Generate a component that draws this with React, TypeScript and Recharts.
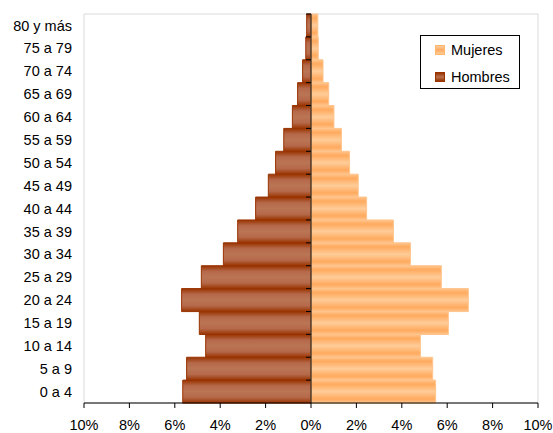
import React from "react";
import { BarChart, Bar, XAxis, YAxis, ReferenceLine, ReferenceArea, Legend } from "recharts";

const categories = ["0 a 4", "5 a 9", "10 a 14", "15 a 19", "20 a 24", "25 a 29", "30 a 34", "35 a 39", "40 a 44", "45 a 49", "50 a 54", "55 a 59", "60 a 64", "65 a 69", "70 a 74", "75 a 79", "80 y más"];
const hombres = [5.65, 5.48, 4.64, 4.92, 5.7, 4.83, 3.86, 3.23, 2.44, 1.88, 1.56, 1.2, 0.82, 0.59, 0.37, 0.23, 0.19];
const mujeres = [5.49, 5.36, 4.82, 6.05, 6.93, 5.74, 4.38, 3.63, 2.45, 2.08, 1.7, 1.34, 1.01, 0.78, 0.53, 0.32, 0.3];
const xTicks = [-10, -8, -6, -4, -2, 0, 2, 4, 6, 8, 10];

const data = categories.map((c, i) => ({ cat: c, Hombres: -hombres[i], Mujeres: mujeres[i] }));

const FONT = "Arial, 'Liberation Sans', sans-serif";
const W = 553;
const H = 433;
const M = { top: 14, right: 15, bottom: 0, left: 8 };
const Y_W = 76;
const plotLeft = M.left + Y_W;
const plotRight = W - M.right;
const zeroX = (plotLeft + plotRight) / 2;

const YTick = (props: any) => {
  const { x, y, payload } = props;
  const half = payload && typeof payload.offset === "number" && payload.offset > 0 ? payload.offset : 11.44;
  return (
    <g>
      <text x={x} y={y} dy="0.355em" textAnchor="end" fontSize={14.5} fontFamily={FONT} fill="#000">
        {payload.value}
      </text>
      <line x1={zeroX - 5} x2={zeroX} y1={y - half} y2={y - half} stroke="#000" strokeWidth={1} />
    </g>
  );
};

const LegendBox = () => {
  const items = [
    { name: "Mujeres", border: "#FFB870", bg: "linear-gradient(#FFCC99, #FFAA5E 50%, #FFCC99)" },
    { name: "Hombres", border: "#993300", bg: "linear-gradient(#993300, #B8704E 50%, #993300)" },
  ];
  return (
    <div
      style={{
        width: 98,
        height: 52,
        border: "1px solid #000",
        background: "#fff",
        boxSizing: "content-box",
        fontFamily: FONT,
        fontSize: 14.5,
        position: "relative",
      }}
    >
      {items.map((it, i) => (
        <div key={it.name} style={{ position: "absolute", left: 14, top: 5 + i * 27, height: 17, display: "flex", alignItems: "center" }}>
          <span style={{ display: "inline-block", width: 8, height: 8, border: `1px solid ${it.border}`, background: it.bg, marginRight: 6 }} />
          <span style={{ color: "#000" }}>{it.name}</span>
        </div>
      ))}
    </div>
  );
};

export default function App() {
  return (
    <div style={{ position: "absolute", left: 0, top: 0, width: W, height: H, background: "#fff", overflow: "hidden" }}>
      <BarChart
        width={W}
        height={H}
        data={data}
        layout="vertical"
        stackOffset="sign"
        barCategoryGap={0}
        barGap={0}
        margin={M}
        style={{ position: "absolute", left: 0, top: 0 }}
      >
        <defs>
          <linearGradient id="gH" x1="0" y1="0" x2="0" y2="1">
            <stop offset="0%" stopColor="#993300" />
            <stop offset="25%" stopColor="#B5694A" />
            <stop offset="50%" stopColor="#BA7555" />
            <stop offset="75%" stopColor="#B5694A" />
            <stop offset="100%" stopColor="#993300" />
          </linearGradient>
          <linearGradient id="gM" x1="0" y1="0" x2="0" y2="1">
            <stop offset="0%" stopColor="#FFC48C" />
            <stop offset="18%" stopColor="#FFAA5E" />
            <stop offset="50%" stopColor="#FFCC99" />
            <stop offset="82%" stopColor="#FFAA5E" />
            <stop offset="100%" stopColor="#FFC48C" />
          </linearGradient>
        </defs>
        <ReferenceArea x1={-10} x2={10} fill="none" stroke="#DADADA" strokeWidth={1} ifOverflow="extendDomain" />
        <XAxis
          type="number"
          domain={[-10, 10]}
          ticks={xTicks}
          tickFormatter={(v: number) => `${Math.abs(v)}%`}
          height={30}
          tickSize={5}
          tickMargin={12}
          axisLine={{ stroke: "#000" }}
          tickLine={{ stroke: "#000" }}
          tick={{ fontSize: 14.5, fontFamily: FONT, fill: "#000" }}
          interval={0}
          allowDataOverflow
        />
        <YAxis
          type="category"
          dataKey="cat"
          reversed
          width={Y_W}
          axisLine={false}
          tickLine={false}
          tickSize={0}
          tickMargin={12}
          interval={0}
          tick={<YTick />}
        />
        <Bar dataKey="Hombres" stackId="a" fill="url(#gH)" stroke="#993300" strokeWidth={1} isAnimationActive={false} />
        <Bar dataKey="Mujeres" stackId="a" fill="url(#gM)" stroke="#FFC48C" strokeWidth={1} isAnimationActive={false} />
        <ReferenceLine x={0} stroke="#000" strokeWidth={1} />
        <Legend
          layout="horizontal"
          verticalAlign="middle"
          align="center"
          content={<LegendBox />}
          wrapperStyle={{ position: "absolute", left: 420, top: 35, width: 100, height: 54 }}
        />
      </BarChart>
    </div>
  );
}
